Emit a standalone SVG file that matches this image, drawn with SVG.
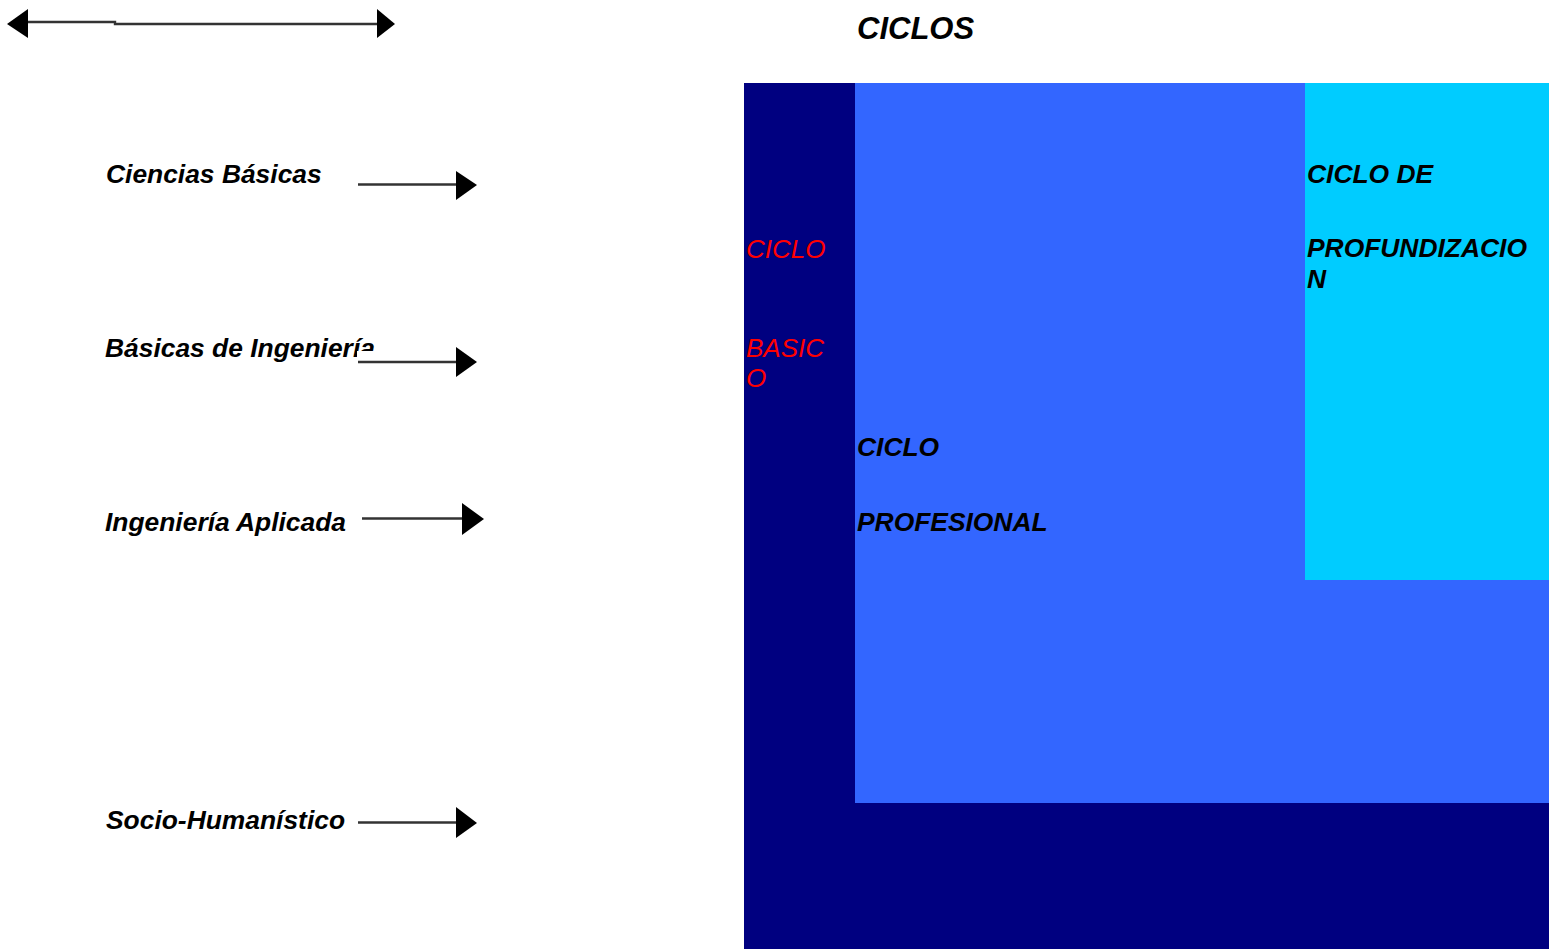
<svg xmlns="http://www.w3.org/2000/svg" width="1550" height="949" viewBox="0 0 1550 949">
<style>
.lbl{font-family:"Liberation Sans",Arial,sans-serif;font-size:26.4px;font-weight:bold;font-style:italic;fill:#000}
.red{font-family:"Liberation Sans",Arial,sans-serif;font-size:26px;font-style:italic;fill:#FF0000}
.ttl{font-family:"Liberation Sans",Arial,sans-serif;font-size:31px;font-weight:bold;font-style:italic;fill:#000}
.ln{stroke:#333;stroke-width:2.4;fill:none}
.hd{fill:#000}
</style>
<rect width="1550" height="949" fill="#fff"/>
<g id="title"><text class="ttl" x="857" y="39">CICLOS</text></g>
<g id="ciclo-basico">
<rect x="744" y="83" width="805" height="866" fill="#000080"/>
<text class="red" x="746" y="258">CICLO</text>
<text class="red" x="746" y="357">BASIC</text>
<text class="red" x="746" y="387">O</text>
</g>
<g id="ciclo-profesional">
<rect x="855" y="83" width="694" height="720" fill="#3366FF"/>
<text class="lbl" x="857" y="456">CICLO</text>
<text class="lbl" x="857" y="531">PROFESIONAL</text>
</g>
<g id="ciclo-profundizacion">
<rect x="1305" y="83" width="244" height="497" fill="#00CCFF"/>
<text class="lbl" x="1307" y="183">CICLO DE</text>
<text class="lbl" x="1307" y="257">PROFUNDIZACIO</text>
<text class="lbl" x="1307" y="288">N</text>
</g>
<g id="ciencias-basicas"><text class="lbl" x="106" y="183">Ciencias Básicas</text></g>
<g id="basicas-ingenieria"><text class="lbl" x="105" y="357">Básicas de Ingeniería</text></g>
<g id="ingenieria-aplicada"><text class="lbl" x="105" y="531">Ingeniería Aplicada</text></g>
<g id="socio-humanistico"><text class="lbl" x="106" y="829">Socio-Humanístico</text></g>
<g id="connectors">
<polyline class="ln" points="28,22 115,22 115,24 377,24"/>
<polygon class="hd" points="28,9 7,24 28,38"/>
<polygon class="hd" points="377,9 395,24 377,38"/>
<line class="ln" x1="358" y1="184.5" x2="457" y2="184.5"/>
<polygon class="hd" points="456,171 477,185 456,200"/>
<rect x="357" y="351" width="121" height="27" fill="#fff"/>
<line class="ln" x1="358" y1="362" x2="457" y2="362"/>
<polygon class="hd" points="456,347 477,362 456,377"/>
<line class="ln" x1="362" y1="518.5" x2="463" y2="518.5"/>
<polygon class="hd" points="462,503 484,519 462,535"/>
<line class="ln" x1="358" y1="822.5" x2="457" y2="822.5"/>
<polygon class="hd" points="456,807 477,823 456,838"/>
</g>
</svg>
